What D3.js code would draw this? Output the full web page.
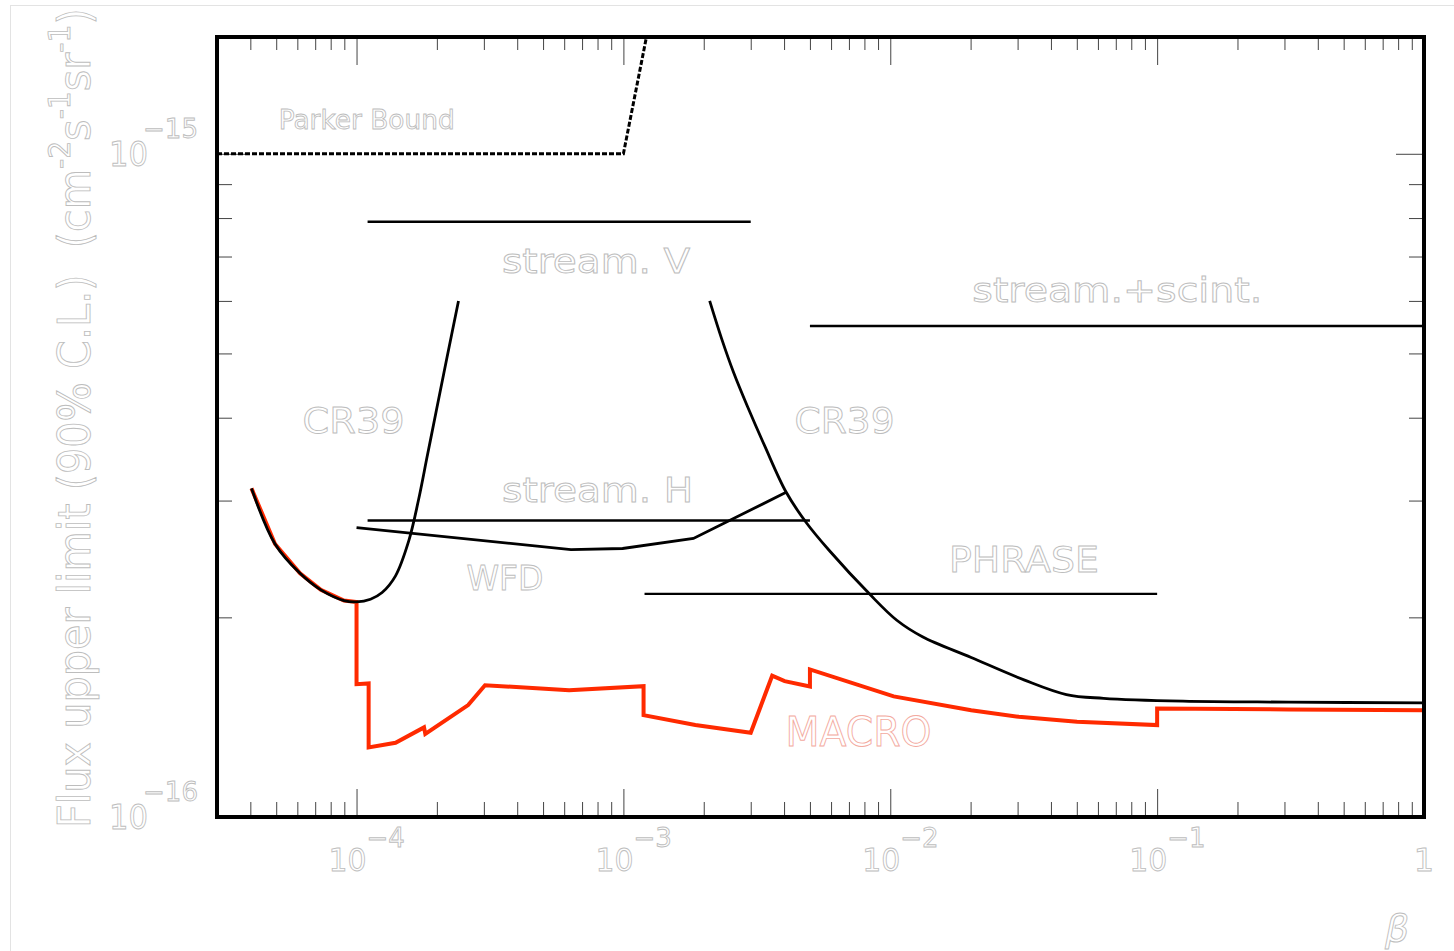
<!DOCTYPE html>
<html>
<head>
<meta charset="utf-8">
<script src="https://cdn.jsdelivr.net/npm/d3@7"></script>
<style>
  html, body { margin: 0; padding: 0; background: #ffffff; }
  svg { display: block; }
  .lbl { font-family: "DejaVu Sans", sans-serif; }
</style>
</head>
<body>
<script>
// ---- Data ----------------------------------------------------------------
// Velocity beta = v/c and 90% C.L. flux upper limits (cm^-2 s^-1 sr^-1)

const parkerBeta = [3e-5, 1e-3, 1.22e-3];
const parkerFlux = [1e-15, 1e-15, 1.5e-15];

const cr39LowBeta = [4.04e-5, 4.95e-5, 6.14e-5, 7.35e-5, 8.97e-5, 1.0e-4, 1.128e-4, 1.247e-4, 1.40e-4, 1.57e-4, 1.705e-4, 1.843e-4, 1.991e-4, 2.189e-4, 2.41e-4];
const cr39LowFlux = [3.13e-16, 2.58e-16, 2.33e-16, 2.20e-16, 2.12e-16, 2.11e-16, 2.13e-16, 2.18e-16, 2.31e-16, 2.61e-16, 3.00e-16, 3.51e-16, 4.10e-16, 4.96e-16, 6.0e-16];

const cr39HighBeta = [2.105e-3, 2.335e-3, 2.588e-3, 2.920e-3, 3.381e-3, 4.07e-3, 4.84e-3, 5.92e-3, 8.35e-3, 1.058e-2, 1.32e-2, 2.01e-2, 3.17e-2, 4.57e-2, 6.3e-2, 0.125, 0.312, 1];
const cr39HighFlux = [6.0e-16, 5.26e-16, 4.68e-16, 4.155e-16, 3.63e-16, 3.09e-16, 2.78e-16, 2.52e-16, 2.17e-16, 1.98e-16, 1.87e-16, 1.74e-16, 1.61e-16, 1.53e-16, 1.51e-16, 1.495e-16, 1.49e-16, 1.486e-16];

const wfdBeta = [1e-4, 6.36e-4, 9.93e-4, 1.83e-3, 4.09e-3];
const wfdFlux = [2.73e-16, 2.53e-16, 2.54e-16, 2.63e-16, 3.09e-16];

const streamVBeta = [1.1e-4, 3e-3];
const streamVFlux = [7.9e-16, 7.9e-16];

const streamHBeta = [1.1e-4, 5e-3];
const streamHFlux = [2.8e-16, 2.8e-16];

const streamScintBeta = [5e-3, 1];
const streamScintFlux = [5.5e-16, 5.5e-16];

const phraseBeta = [1.2e-3, 0.1];
const phraseFlux = [2.17e-16, 2.17e-16];

const macroBeta = [4.04e-5, 4.95e-5, 6.14e-5, 7.35e-5, 8.97e-5, 1.0e-4, 1.0e-4, 1.11e-4, 1.11e-4, 1.40e-4, 1.79e-4, 1.81e-4, 2.62e-4, 3.03e-4, 6.26e-4, 1.19e-3, 1.19e-3, 1.86e-3, 3.0e-3, 3.61e-3, 4.02e-3, 5.0e-3, 5.0e-3, 1.03e-2, 2.01e-2, 3.03e-2, 5.01e-2, 0.1, 0.1, 0.312, 1];
const macroFlux = [3.13e-16, 2.58e-16, 2.33e-16, 2.20e-16, 2.12e-16, 2.11e-16, 1.586e-16, 1.59e-16, 1.273e-16, 1.294e-16, 1.365e-16, 1.334e-16, 1.475e-16, 1.58e-16, 1.553e-16, 1.575e-16, 1.424e-16, 1.376e-16, 1.34e-16, 1.633e-16, 1.603e-16, 1.573e-16, 1.669e-16, 1.52e-16, 1.449e-16, 1.416e-16, 1.392e-16, 1.376e-16, 1.457e-16, 1.453e-16, 1.449e-16];

// Axis ranges and ticks
const betaDomain = [3e-5, 1];
const fluxDomain = [1e-16, 1.5e-15];
const xMajorTicks = [1e-4, 1e-3, 1e-2, 1e-1, 1];
const xTickExponents = ["\u22124", "\u22123", "\u22122", "\u22121", null];
const yMajorTicks = [1e-16, 1e-15];
const yTickExponents = ["\u221216", "\u221215"];

// ---- Layout ----------------------------------------------------------------
const W = 1454, H = 951;
const plot = { left: 217, right: 1424, top: 37, bottom: 817 };

const svg = d3.select("body").append("svg").attr("width", W).attr("height", H);

// faint outer frame of the canvas
svg.append("rect")
  .attr("x", 10.5).attr("y", 5.5).attr("width", W).attr("height", H)
  .attr("fill", "none").attr("stroke", "#e3e3e3").attr("stroke-width", 1);

const x = d3.scaleLog().domain(betaDomain).range([plot.left, plot.right]);
const y = d3.scaleLog().domain(fluxDomain).range([plot.bottom, plot.top]);

// minor ticks: 2..9 within each decade inside the domain
function minorTicks(domain) {
  const out = [];
  for (let e = -20; e <= 1; e++) {
    for (let m = 2; m <= 9; m++) {
      const v = m * Math.pow(10, e);
      if (v > domain[0] * 1.0001 && v < domain[1] * 0.9999) out.push(v);
    }
  }
  return out;
}
const xMinor = minorTicks(betaDomain);
const yMinor = minorTicks(fluxDomain);

const tickColor = "#444";
function styleAxis(g) {
  g.select(".domain").remove();
  g.selectAll(".tick text").remove();
  g.selectAll(".tick line").attr("stroke", tickColor).attr("stroke-width", 1);
}
const axes = svg.append("g");
// bottom edge, ticks pointing up
axes.append("g").attr("transform", `translate(0,${plot.bottom})`)
  .call(d3.axisTop(x).tickValues(xMajorTicks).tickSize(28)).call(styleAxis);
axes.append("g").attr("transform", `translate(0,${plot.bottom})`)
  .call(d3.axisTop(x).tickValues(xMinor).tickSize(15)).call(styleAxis);
// top edge, ticks pointing down
axes.append("g").attr("transform", `translate(0,${plot.top})`)
  .call(d3.axisBottom(x).tickValues(xMajorTicks).tickSize(28)).call(styleAxis);
axes.append("g").attr("transform", `translate(0,${plot.top})`)
  .call(d3.axisBottom(x).tickValues(xMinor).tickSize(13)).call(styleAxis);
// left edge, ticks pointing right
axes.append("g").attr("transform", `translate(${plot.left},0)`)
  .call(d3.axisRight(y).tickValues(yMajorTicks).tickSize(28)).call(styleAxis);
axes.append("g").attr("transform", `translate(${plot.left},0)`)
  .call(d3.axisRight(y).tickValues(yMinor).tickSize(15)).call(styleAxis);
// right edge, ticks pointing left
axes.append("g").attr("transform", `translate(${plot.right},0)`)
  .call(d3.axisLeft(y).tickValues(yMajorTicks).tickSize(28)).call(styleAxis);
axes.append("g").attr("transform", `translate(${plot.right},0)`)
  .call(d3.axisLeft(y).tickValues(yMinor).tickSize(15)).call(styleAxis);

// ---- Curves ----------------------------------------------------------------
svg.append("clipPath").attr("id", "plotClip").append("rect")
  .attr("x", plot.left).attr("y", plot.top)
  .attr("width", plot.right - plot.left).attr("height", plot.bottom - plot.top);

const curves = svg.append("g").attr("clip-path", "url(#plotClip)");
const lineLin = d3.line().x(d => x(d[0])).y(d => y(d[1]));
const lineSmooth = d3.line().x(d => x(d[0])).y(d => y(d[1])).curve(d3.curveCatmullRom.alpha(0.5));

function draw(beta, flux, gen, color, width, dash) {
  const p = curves.append("path")
    .datum(d3.zip(beta, flux))
    .attr("d", gen)
    .attr("fill", "none")
    .attr("stroke", color)
    .attr("stroke-width", width)
    .attr("stroke-linejoin", "miter");
  if (dash) p.attr("stroke-dasharray", dash);
  return p;
}

draw(macroBeta, macroFlux, lineLin, "#ff2a00", 4);
draw(parkerBeta, parkerFlux, lineLin, "#000", 3, "5,2");
draw(streamVBeta, streamVFlux, lineLin, "#000", 2.4);
draw(streamHBeta, streamHFlux, lineLin, "#000", 2.4);
draw(streamScintBeta, streamScintFlux, lineLin, "#000", 2.4);
draw(phraseBeta, phraseFlux, lineLin, "#000", 2.4);
draw(wfdBeta, wfdFlux, lineLin, "#000", 2.8);
draw(cr39LowBeta, cr39LowFlux, lineSmooth, "#000", 2.8);
draw(cr39HighBeta, cr39HighFlux, lineSmooth, "#000", 2.8);

// plot frame
svg.append("rect")
  .attr("x", plot.left).attr("y", plot.top)
  .attr("width", plot.right - plot.left).attr("height", plot.bottom - plot.top)
  .attr("fill", "none").attr("stroke", "#000").attr("stroke-width", 4);

// ---- Text (outlined glyphs) -----------------------------------------------
const grey = "#bdbdbd";
function outlined(sel, color) {
  return sel.attr("fill", "#ffffff").attr("stroke", color || grey)
    .attr("stroke-width", 0.9).attr("class", "lbl");
}

// curve annotations: text, left edge (beta), baseline (flux), font size, width
const annotations = [
  { text: "Parker Bound",    beta: 5.11e-5, flux: 1.09e-15,  size: 27, width: 176 },
  { text: "stream. V",       beta: 3.51e-4, flux: 6.62e-16,  size: 33, width: 188 },
  { text: "CR39",            beta: 6.28e-5, flux: 3.79e-16,  size: 36, width: 102 },
  { text: "CR39",            beta: 4.38e-3, flux: 3.79e-16,  size: 36, width: 100 },
  { text: "stream.+scint.",  beta: 2.03e-2, flux: 5.97e-16,  size: 34, width: 290 },
  { text: "stream. H",       beta: 3.51e-4, flux: 2.99e-16,  size: 34, width: 191 },
  { text: "WFD",             beta: 2.58e-4, flux: 2.20e-16,  size: 34, width: 77 },
  { text: "PHRASE",          beta: 1.66e-2, flux: 2.34e-16,  size: 36, width: 150 },
  { text: "MACRO",           beta: 4.05e-3, flux: 1.279e-16, size: 40, width: 146, color: "#f3aaa0" }
];
const ann = svg.append("g");
annotations.forEach(a => {
  outlined(ann.append("text"), a.color)
    .attr("x", x(a.beta)).attr("y", y(a.flux))
    .attr("font-size", a.size)
    .attr("textLength", a.width).attr("lengthAdjust", "spacingAndGlyphs")
    .text(a.text);
});

// x tick labels
const xl = svg.append("g");
xMajorTicks.forEach((v, i) => {
  const px = x(v);
  if (xTickExponents[i] === null) {
    outlined(xl.append("text")).attr("x", px).attr("y", 871)
      .attr("text-anchor", "middle").attr("font-size", 32).text("1");
  } else {
    outlined(xl.append("text")).attr("x", px - 28).attr("y", 871)
      .attr("font-size", 32).attr("textLength", 38).attr("lengthAdjust", "spacingAndGlyphs").text("10");
    outlined(xl.append("text")).attr("x", px + 10).attr("y", 847)
      .attr("font-size", 26).text(xTickExponents[i]);
  }
});

// y tick labels
const yl = svg.append("g");
yMajorTicks.forEach((v, i) => {
  const py = y(v);
  outlined(yl.append("text")).attr("x", 109).attr("y", py + 12)
    .attr("font-size", 33).attr("textLength", 39).attr("lengthAdjust", "spacingAndGlyphs").text("10");
  outlined(yl.append("text")).attr("x", 143).attr("y", py - 16)
    .attr("font-size", 26).attr("textLength", 55).attr("lengthAdjust", "spacingAndGlyphs").text(yTickExponents[i]);
});

// x axis title
outlined(svg.append("text")).attr("x", 1385).attr("y", 941)
  .attr("font-size", 38).attr("font-style", "italic").text("\u03b2");

// y axis title, rotated and stretched to the full height of the canvas
const yTitle = outlined(svg.append("text")).attr("font-size", 44);
yTitle.append("tspan").text("Flux upper limit (90% C.L.)\u00a0\u00a0(cm");
yTitle.append("tspan").attr("font-size", 30).attr("dy", -20).text("-2");
yTitle.append("tspan").attr("dy", 20).text("s");
yTitle.append("tspan").attr("font-size", 30).attr("dy", -20).text("-1");
yTitle.append("tspan").attr("dy", 20).text("sr");
yTitle.append("tspan").attr("font-size", 30).attr("dy", -20).text("-1");
yTitle.append("tspan").attr("dy", 20).text(")");
const natural = yTitle.node().getComputedTextLength();
const target = 820;
yTitle.attr("transform", `translate(90,828) rotate(-90) scale(${target / natural},1)`);
</script>
</body>
</html>
